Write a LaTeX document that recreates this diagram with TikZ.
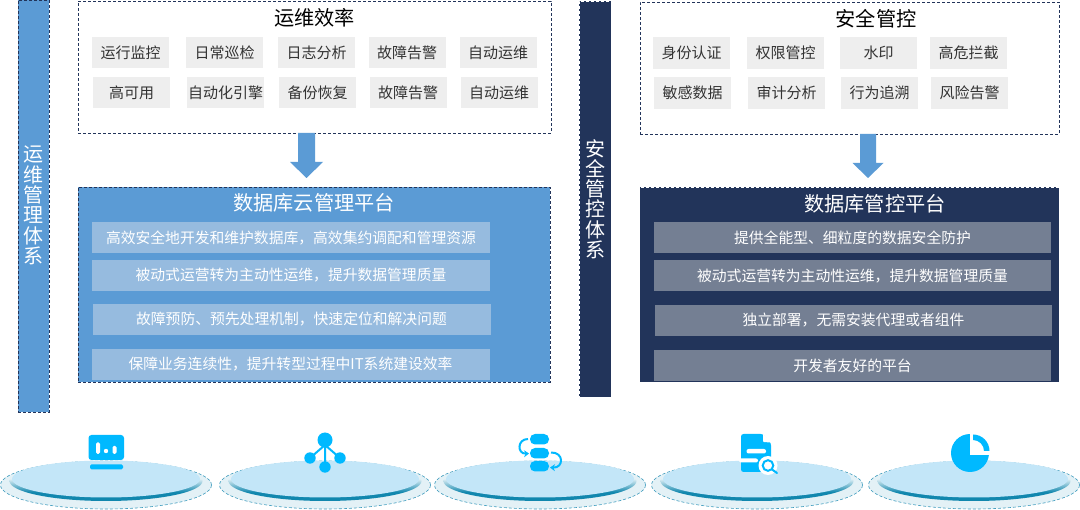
\documentclass[tikz,border=0pt]{standalone}
\usepackage{fontspec}
\setmainfont{Noto Sans CJK SC}
\usetikzlibrary{calc,arrows.meta,shapes.geometric}
\definecolor{bluef}{HTML}{5B9BD5}
\definecolor{navyf}{HTML}{22345A}
\definecolor{tile}{HTML}{EEEEEE}
\definecolor{ink}{HTML}{333333}
\definecolor{stripeL}{HTML}{96BBDF}
\definecolor{stripeR}{HTML}{747F93}
\definecolor{icon}{HTML}{00B9FF}
\definecolor{disc}{HTML}{C3E6F8}
\definecolor{rim}{HTML}{1187AE}
\definecolor{halo}{HTML}{E3F1F6}
\definecolor{halod}{HTML}{3F9CBE}
\pgfdeclareverticalshading{rimshade}{100bp}{color(0bp)=(rim); color(36bp)=(rim); color(53bp)=(halo); color(100bp)=(halo)}
\tikzset{
  x=1pt,y=-1pt,
  panel/.style={draw=navyf,densely dashed,line width=0.8pt,fill=white,inner sep=0pt,outer sep=0pt},
  tilebox/.style={fill=tile,text=ink,font=\fontsize{15}{16}\selectfont,inner sep=0pt,minimum width=77pt,minimum height=31.5pt},
  stripeleft/.style={fill=stripeL,text=white,font=\fontsize{14.8}{16}\selectfont,inner sep=0pt,minimum width=398pt,minimum height=31pt},
  striperight/.style={fill=stripeR,text=white,font=\fontsize{14.8}{16}\selectfont,inner sep=0pt,minimum width=397pt,minimum height=31pt},
  titletext/.style={font=\fontsize{20.2}{22}\selectfont,inner sep=0pt},
  sidetext/.style={text=white,font=\fontsize{20}{20.3}\selectfont,align=center,inner sep=0pt},
  blockarrow/.style={fill=bluef,draw=none},
  iconfill/.style={fill=icon,draw=none},
}
\newcommand{\pedestal}[2]{%
  \node[draw=halod,densely dashed,line width=0.6pt,fill=halo,ellipse,inner sep=0pt,minimum width=211pt,minimum height=48pt] (#2) at (#1,485) {};
  \shade[shading=rimshade] (#1,481) ellipse [x radius=96.5,y radius=20];
  \fill[disc] (#1,479) ellipse [x radius=94,y radius=18.5];
}
\begin{document}
\begin{tikzpicture}
\useasboundingbox (0,0) rectangle (1080,510);
\fill[white] (0,0) rectangle (1080,510);
% side bars
\node[panel,fill=bluef,minimum width=31pt,minimum height=412pt,anchor=north west] (sideL) at (18,0) {};
\node[sidetext,anchor=north] (sideLt) at (33.5,146) {运\\维\\管\\理\\体\\系};
\node[panel,draw=white,fill=navyf,minimum width=32pt,minimum height=396pt,anchor=north west] (sideR) at (579,1) {};
\node[sidetext,anchor=north] (sideRt) at (595,139) {安\\全\\管\\控\\体\\系};
% top panels
\node[panel,minimum width=473pt,minimum height=132pt,anchor=north west] (effL) at (78,1) {};
\node[titletext,text=black] (effLt) at (314.5,18) {运维效率};
\node[panel,minimum width=419pt,minimum height=132pt,anchor=north west] (effR) at (640,2) {};
\node[titletext,text=black] (effRt) at (876,18.5) {安全管控};
% tiles left
\foreach \n/\x/\y/\t in {a/130.5/52.5/运行监控,b/224.5/52.5/日常巡检,c/316.5/52.5/日志分析,d/407/52.5/故障告警,e/498/52.5/自动运维,f/131.5/92.5/高可用,g/225.5/92.5/自动化引擎,h/317.5/92.5/备份恢复,i/408/92.5/故障告警,j/499/92.5/自动运维}
  \node[tilebox] (L\n) at (\x,\y) {\t};
% tiles right
\foreach \n/\x/\y/\t in {a/691.5/53/身份认证,b/785.5/53/权限管控,c/878.5/53/水印,d/968.5/53/高危拦截,e/692.5/93/敏感数据,f/786.5/93/审计分析,g/879.5/93/行为追溯,h/969.5/93/风险告警}
  \node[tilebox] (R\n) at (\x,\y) {\t};
% platforms
\node[panel,fill=bluef,minimum width=472pt,minimum height=195pt,anchor=north west] (platL) at (78,187) {};
\node[titletext,text=white] (platLt) at (314,203) {数据库云管理平台};
\node[panel,draw=white,fill=navyf,minimum width=419.5pt,minimum height=195pt,anchor=north west] (platR) at (639.5,187) {};
\node[titletext,text=white] (platRt) at (875,204) {数据库管控平台};
% arrows
\fill[blockarrow] ($(effL.south)+(-16.5,0)$) -- ++(17,0) -- ++(0,29) -- ++(8,0) -- ++(-16.5,16) -- ++(-16.5,-16) -- ++(8,0) -- cycle;
\fill[blockarrow] ($(effR.south)+(10.5,0)$) -- ++(16,0) -- ++(0,29) -- ++(7.5,0) -- ++(-15.5,15) -- ++(-15.5,-15) -- ++(7.5,0) -- cycle;
% stripes
\node[stripeleft] (s1) at (291,237.5) {高效安全地开发和维护数据库，高效集约调配和管理资源};
\node[stripeleft] (s2) at (291,275.5) {被动式运营转为主动性运维，提升数据管理质量};
\node[stripeleft] (s3) at (291.5,319.5) {故障预防、预先处理机制，快速定位和解决问题};
\node[stripeleft] (s4) at (290.5,364.5) {保障业务连续性，提升转型过程中IT系统建设效率};
\node[striperight] (r1) at (852.5,237.5) {提供全能型、细粒度的数据安全防护};
\node[striperight] (r2) at (852.5,276) {被动式运营转为主动性运维，提升数据管理质量};
\node[striperight] (r3) at (853.5,320.5) {独立部署，无需安装代理或者组件};
\node[striperight] (r4) at (852.5,365.5) {开发者友好的平台};
% pedestals
\pedestal{106}{p1}
\pedestal{325}{p2}
\pedestal{540}{p3}
\pedestal{757}{p4}
\pedestal{974}{p5}
% icon 1
\fill[iconfill,rounded corners=3pt] (88.5,435) rectangle (124,460);
\fill[iconfill,rounded corners=1.5pt] (90,464.5) rectangle (123,469.5);
\fill[white,rounded corners=1.5pt] (96,442.5) rectangle (100,454);
\fill[white] (106,451) circle (2.2);
\fill[white,rounded corners=1.5pt] (112.5,446) rectangle (116.5,454);
% icon 2
\draw[icon,line width=2pt] (325,440) -- (325,467) (325,445) -- (310,458) (325,445) -- (340,458);
\fill[iconfill] (325,440) circle (7.5) (310,458) circle (5.7) (340,458) circle (5.7) (325,467) circle (5.7);
% icon 3
\fill[iconfill,rounded corners=5pt] (530,434) rectangle (549,444.5);
\fill[iconfill,rounded corners=5pt] (530,448) rectangle (549,458.5);
\fill[iconfill,rounded corners=5pt] (530,461) rectangle (549,471.5);
\draw[icon,line width=2pt,-{Stealth[length=5pt,width=7pt]}] (528,439) .. controls (517,439) and (517,454) .. (529,453.5);
\draw[icon,line width=2pt,-{Stealth[length=5pt,width=7pt]}] (551,452.5) .. controls (564,452) and (564,468) .. (550,467.5);
% icon 4
\fill[iconfill,rounded corners=2.5pt] (741,434) -- (763,434) -- (771,443) -- (771,472) -- (741,472) -- cycle;
\fill[white] (763,434) -- (771,434) -- (771,443) -- cycle;
\fill[white,rounded corners=1pt] (763,434) -- (763,442) -- (771,442.5) -- cycle;
\fill[white,rounded corners=2pt] (746.5,449) rectangle (766,453.5);
\fill[white,rounded corners=2pt] (739,458.5) rectangle (758,462.5);
\fill[white] (768,465.5) circle (9.5);
\draw[icon,line width=2pt] (768,465.5) circle (5.3);
\draw[icon,line width=2pt,line cap=round] (772,469.5) -- (777,473);
% icon 5
\fill[iconfill] (970,453) circle (19);
\fill[white] (970,431) rectangle (992,455);
\fill[iconfill] (973,434.5) arc[start angle=90,end angle=0,radius=16.5pt] -- (984,451) arc[start angle=0,end angle=90,radius=11pt] -- cycle;
\end{tikzpicture}
\end{document}
